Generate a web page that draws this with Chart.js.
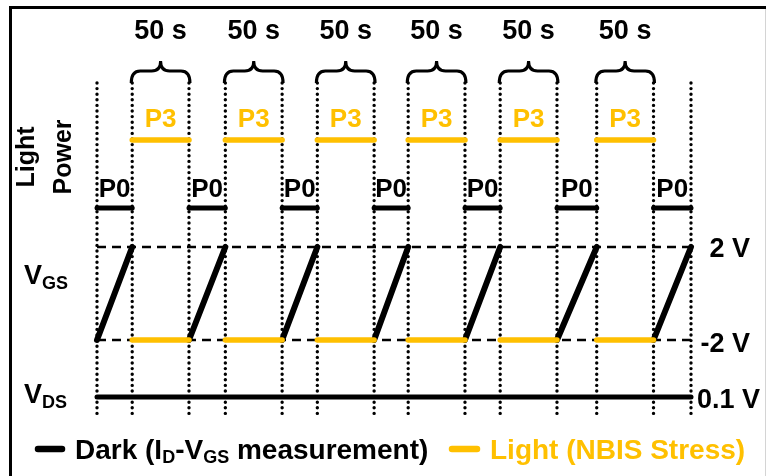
<!DOCTYPE html>
<html>
<head>
<meta charset="utf-8">
<title>NBIS timing sequence</title>
<script src="https://cdn.jsdelivr.net/npm/chart.js@4/dist/chart.umd.min.js"></script>
<style>
  html, body { margin: 0; padding: 0; background: #fff; }
  #wrap { position: relative; width: 766px; height: 476px; }
</style>
</head>
<body>
<div id="wrap"><canvas id="c" width="766" height="476"></canvas></div>
<script>
// Dark I-V sweep (measurement) durations in seconds, one per sweep
const measureSec = [31, 32, 31, 30, 31, 35, 33];
// Light (NBIS) stress durations in seconds
const stressSec = [50, 50, 50, 50, 50, 50];
// Light power levels
const powerDark = 0;
const powerStress = 3;
const powerLabelDark = 'P0';
const powerLabelStress = 'P3';
// Gate voltage: sweep start/end and stress bias (V)
const vgsSweep = [-2, 2];
const vgsStress = -2;
// Drain voltage (V)
const vdsBias = 0.1;
// Text labels
const vgsLevelLabels = ['2 V', '-2 V'];
const vdsLevelLabel = '0.1 V';
const stressLabel = '50 s';
const legendDark = ['Dark (I', 'D', '-V', 'GS', ' measurement)'];
const legendLight = 'Light (NBIS Stress)';

const BLACK = '#000000';
const ORANGE = '#FFC000';
const FONT = '"Liberation Sans", Arial, Helvetica, sans-serif';

// Build the sweep / stress windows on the time axis
const darkWin = [];
const stressWin = [];
let t = 0;
measureSec.forEach((d, i) => {
  darkWin.push([t, t + d]);
  t += d;
  if (i < stressSec.length) {
    stressWin.push([t, t + stressSec[i]]);
    t += stressSec[i];
  }
});
const tEnd = t;
const boundaries = [];
darkWin.forEach(([a, b]) => boundaries.push(a, b));

const seg = (x0, y0, x1, y1) => [{ x: x0, y: y0 }, { x: x1, y: y1 }];
const datasets = [];

// dotted phase boundaries
boundaries.forEach(b => datasets.push({
  data: seg(b, 0, b, 1), yAxisID: 'yFrame', borderColor: BLACK, borderWidth: 3.4,
  borderDash: [0, 5.6], borderCapStyle: 'round', order: 6
}));
// dashed VGS reference levels
vgsSweep.forEach(v => datasets.push({
  data: seg(0, v, tEnd, v), yAxisID: 'yVgs', borderColor: BLACK, borderWidth: 2.5,
  borderDash: [9, 6], order: 5
}));
// VDS bias
datasets.push({
  data: seg(0, vdsBias, tEnd, vdsBias), yAxisID: 'yVds', borderColor: BLACK, borderWidth: 5,
  borderCapStyle: 'round', order: 3
});
// dark windows: P0 light power and VGS sweep
darkWin.forEach(([a, b]) => {
  datasets.push({
    data: seg(a, powerDark, b, powerDark), yAxisID: 'yPower', borderColor: BLACK, borderWidth: 5,
    borderCapStyle: 'round', order: 2
  });
  datasets.push({
    data: seg(a, vgsSweep[0], b, vgsSweep[1]), yAxisID: 'yVgs', borderColor: BLACK, borderWidth: 6,
    borderCapStyle: 'round', order: 2
  });
});
// stress windows: P3 light power and VGS stress bias
stressWin.forEach(([a, b]) => {
  datasets.push({
    data: seg(a, powerStress, b, powerStress), yAxisID: 'yPower', borderColor: ORANGE, borderWidth: 5.5,
    borderCapStyle: 'round', order: 1
  });
  datasets.push({
    data: seg(a, vgsStress, b, vgsStress), yAxisID: 'yVgs', borderColor: ORANGE, borderWidth: 5.5,
    borderCapStyle: 'round', order: 1
  });
});
datasets.forEach(d => { d.pointRadius = 0; d.clip = false; d.tension = 0; d.fill = false; });

// Text with a subscript run: parts alternate normal / subscript
function drawSubText(ctx, parts, x, y, size, subSize, shift) {
  ctx.textAlign = 'left';
  let cx = x;
  parts.forEach((p, i) => {
    const sub = i % 2 === 1;
    ctx.font = 'bold ' + (sub ? subSize : size) + 'px ' + FONT;
    ctx.fillText(p, cx, sub ? y + shift : y);
    cx += ctx.measureText(p).width;
  });
}

function drawBrace(ctx, x0, x1, yb, yh, yt) {
  const xm = (x0 + x1) / 2, r = 9;
  ctx.beginPath();
  ctx.moveTo(x0, yb);
  ctx.quadraticCurveTo(x0, yh, x0 + r, yh);
  ctx.lineTo(xm - r, yh);
  ctx.quadraticCurveTo(xm, yh, xm, yt);
  ctx.quadraticCurveTo(xm, yh, xm + r, yh);
  ctx.lineTo(x1 - r, yh);
  ctx.quadraticCurveTo(x1, yh, x1, yb);
  ctx.stroke();
}

const annotations = {
  id: 'annotations',
  afterDraw(chart) {
    const ctx = chart.ctx;
    const xs = chart.scales.x, yP = chart.scales.yPower, yG = chart.scales.yVgs, yD = chart.scales.yVds;
    const top = chart.chartArea.top;
    ctx.save();
    ctx.fillStyle = BLACK;
    ctx.strokeStyle = BLACK;
    ctx.textBaseline = 'alphabetic';

    // stress windows: braces, duration and power labels
    stressWin.forEach(([a, b]) => {
      const xa = xs.getPixelForValue(a), xb = xs.getPixelForValue(b), xm = (xa + xb) / 2;
      ctx.lineWidth = 3;
      ctx.lineCap = 'butt';
      ctx.strokeStyle = BLACK;
      drawBrace(ctx, xa - 1, xb + 1, top, top - 12, top - 22);
      ctx.fillStyle = BLACK;
      ctx.textAlign = 'center';
      ctx.font = 'bold 27px ' + FONT;
      ctx.fillText(stressLabel, xm, top - 44);
      ctx.fillStyle = ORANGE;
      ctx.font = 'bold 26px ' + FONT;
      ctx.fillText(powerLabelStress, xm, yP.getPixelForValue(powerStress) - 13);
    });
    // dark windows: power labels
    ctx.fillStyle = BLACK;
    darkWin.forEach(([a, b]) => {
      const xm = (xs.getPixelForValue(a) + xs.getPixelForValue(b)) / 2;
      ctx.textAlign = 'center';
      ctx.font = 'bold 26px ' + FONT;
      ctx.fillText(powerLabelDark, xm, yP.getPixelForValue(powerDark) - 11);
    });

    // level labels on the right
    ctx.font = 'bold 27px ' + FONT;
    ctx.textAlign = 'right';
    ctx.fillText(vgsLevelLabels[0], 750, yG.getPixelForValue(vgsSweep[1]) + 10);
    ctx.fillText(vgsLevelLabels[1], 750, yG.getPixelForValue(vgsSweep[0]) + 12);
    ctx.textAlign = 'left';
    ctx.fillText(vdsLevelLabel, xs.getPixelForValue(tEnd) + 6, yD.getPixelForValue(vdsBias) + 11);

    // row labels on the left
    ctx.save();
    ctx.translate(0, 157);
    ctx.rotate(-Math.PI / 2);
    ctx.textAlign = 'center';
    ctx.font = 'bold 25px ' + FONT;
    ctx.fillText('Light', 0, 34);
    ctx.fillText('Power', 0, 71);
    ctx.restore();
    drawSubText(ctx, ['V', 'GS'], 24, 284, 27, 18, 5);
    drawSubText(ctx, ['V', 'DS'], 24, 403, 27, 18, 5);

    // legend
    ctx.lineCap = 'round';
    ctx.lineWidth = 6.5;
    ctx.strokeStyle = BLACK;
    ctx.beginPath(); ctx.moveTo(38, 449); ctx.lineTo(62, 449); ctx.stroke();
    ctx.fillStyle = BLACK;
    drawSubText(ctx, legendDark, 75, 459, 28, 18, 4);
    ctx.strokeStyle = ORANGE;
    ctx.beginPath(); ctx.moveTo(452, 449); ctx.lineTo(477, 449); ctx.stroke();
    ctx.fillStyle = ORANGE;
    ctx.textAlign = 'left';
    ctx.font = 'bold 28px ' + FONT;
    ctx.fillText(legendLight, 490, 459);

    // frame
    ctx.lineCap = 'butt';
    ctx.strokeStyle = BLACK;
    ctx.lineWidth = 3;
    ctx.beginPath();
    ctx.moveTo(766, 7.5); ctx.lineTo(10.5, 7.5); ctx.lineTo(10.5, 476);
    ctx.stroke();
    ctx.strokeStyle = '#d4d4d4';
    ctx.lineWidth = 1;
    ctx.beginPath(); ctx.moveTo(765.5, 9); ctx.lineTo(765.5, 476); ctx.stroke();
    ctx.restore();
  }
};

new Chart(document.getElementById('c'), {
  type: 'line',
  data: { datasets },
  options: {
    responsive: false,
    animation: false,
    events: [],
    layout: { padding: { left: 97, right: 75, top: 83, bottom: 58 } },
    plugins: { legend: { display: false }, tooltip: { enabled: false } },
    scales: {
      x: { type: 'linear', min: 0, max: tEnd, display: false },
      yFrame: { type: 'linear', axis: 'y', min: 0, max: 1, reverse: true, display: false },
      yPower: { type: 'linear', axis: 'y', min: -9.265, max: 5.515, display: false },
      yVgs: { type: 'linear', axis: 'y', min: -5.355, max: 9.054, display: false },
      yVds: { type: 'linear', axis: 'y', min: 0, max: 1.6, display: false }
    }
  },
  plugins: [annotations]
});
</script>
</body>
</html>
